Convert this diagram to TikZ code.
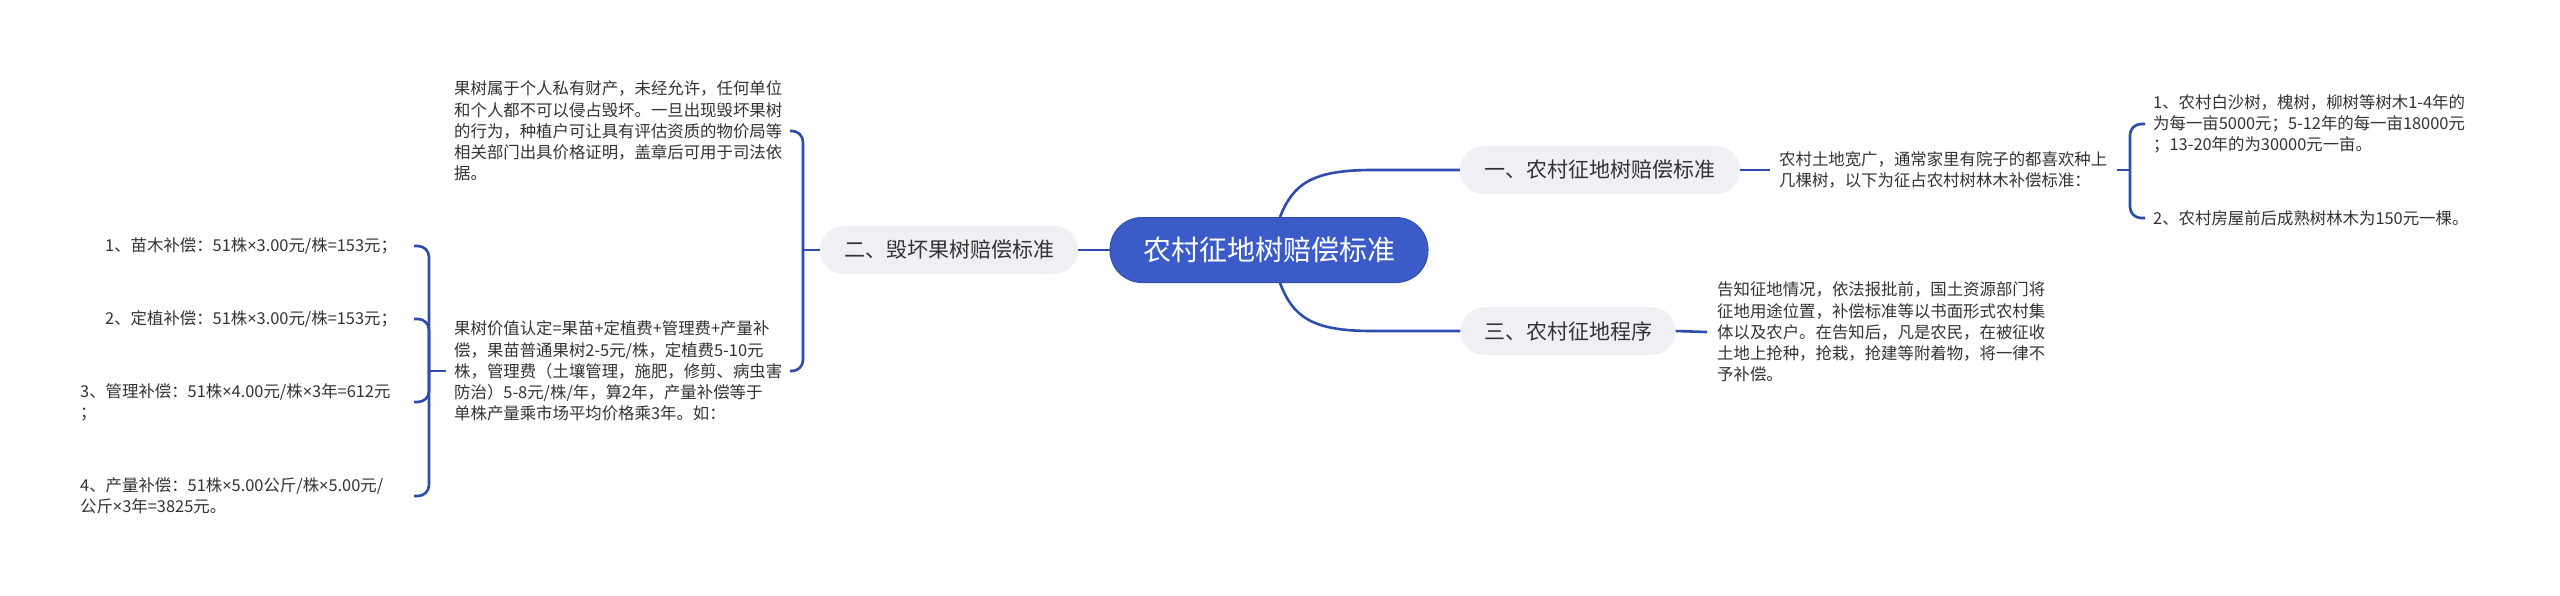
\documentclass[tikz,border=0pt]{standalone}
\usepackage{fontspec}
\setmainfont{Noto Sans CJK SC}
\newfontfamily\latinfont{Noto Sans}
\newcommand{\mytimes}{{\latinfont ×}}
\definecolor{lineblue}{RGB}{45,76,172}
\definecolor{rootblue}{RGB}{59,92,200}
\definecolor{subgray}{RGB}{238,240,244}
\definecolor{txt}{RGB}{51,51,51}
\begin{document}
\begin{tikzpicture}[x=1pt,y=-1pt,
  root/.style={fill=rootblue, draw=rootblue!85!black, line width=1pt, rounded corners=32pt, minimum width=318pt, minimum height=65pt, text=white, font=\fontsize{28}{34}\selectfont, inner sep=0pt},
  sub/.style={fill=subgray, rounded corners=24pt, minimum height=48pt, text=txt, font=\fontsize{21}{26}\selectfont, inner sep=0pt},
  leaf/.style={text=txt, font=\fontsize{16.4}{21.2}\selectfont, align=left, inner sep=0pt, anchor=west},
  conn/.style={draw=lineblue, line width=2.6pt},
  brk/.style={conn, rounded corners=11pt}
]
\useasboundingbox[fill=white] (0,0) rectangle (2560,595);

% main nodes
\node[root] (root) at (1269,250) {农村征地树赔偿标准};
\node[sub, minimum width=280pt] (n1) at (1600,170) {一、农村征地树赔偿标准};
\node[sub, minimum width=258pt] (n2) at (949,250) {二、毁坏果树赔偿标准};
\node[sub, minimum width=215pt] (n3) at (1568,331) {三、农村征地程序};

% leaf texts
\node[leaf] (t1) at (1779,170) {农村土地宽广，通常家里有院子的都喜欢种上\\几棵树，以下为征占农村树林木补偿标准：};
\node[leaf] (r1) at (2153,124) {1、农村白沙树，槐树，柳树等树木1-4年的\\为每一亩5000元；5-12年的每一亩18000元\\；13-20年的为30000元一亩。};
\node[leaf] (r2) at (2153,218) {2、农村房屋前后成熟树林木为150元一棵。};
\node[leaf] (t3) at (1717,332) {告知征地情况，依法报批前，国土资源部门将\\征地用途位置，补偿标准等以书面形式农村集\\体以及农户。在告知后，凡是农民，在被征收\\土地上抢种，抢栽，抢建等附着物，将一律不\\予补偿。};
\node[leaf] (tA) at (454,131) {果树属于个人私有财产，未经允许，任何单位\\和个人都不可以侵占毁坏。一旦出现毁坏果树\\的行为，种植户可让具有评估资质的物价局等\\相关部门出具价格证明，盖章后可用于司法依\\据。};
\node[leaf] (tB) at (454,371) {果树价值认定=果苗+定植费+管理费+产量补\\偿，果苗普通果树2-5元/株，定植费5-10元\\株，管理费（土壤管理，施肥，修剪、病虫害\\防治）5-8元/株/年，算2年，产量补偿等于\\单株产量乘市场平均价格乘3年。如：};
\node[leaf] (L1) at (105,246) {1、苗木补偿：51株\mytimes3.00元/株=153元；};
\node[leaf] (L2) at (105,319) {2、定植补偿：51株\mytimes3.00元/株=153元；};
\node[leaf] (L3) at (80,402) {3、管理补偿：51株\mytimes4.00元/株\mytimes3年=612元\\；};
\node[leaf] (L4) at (80,496) {4、产量补偿：51株\mytimes5.00公斤/株\mytimes5.00元/\\公斤\mytimes3年=3825元。};

% bracket coordinates
\coordinate (b1) at (2130,170);
\coordinate (b2) at (803,250);
\coordinate (b3) at (429,371);
\coordinate (c1) at (1372,170);
\coordinate (c3) at (1372,331);

% connectors from root
\draw[conn] (root.west) -- (n2.east);
\draw[conn] ([xshift=11pt]root.north) .. controls (1293,184) and (1312,170) .. (c1) -- (n1.west);
\draw[conn] ([xshift=11pt]root.south) .. controls (1293,317) and (1312,331) .. (c3) -- (n3.west);

% branch 1
\draw[conn] (n1.east) -- ([xshift=-9pt]t1.west);
\draw[conn] ([xshift=10pt]t1.east) -- (b1);
\draw[brk] (b1) -- (b1 |- r1.west) -- ++(15,0);
\draw[brk] (b1) -- (b1 |- r2.west) -- ++(15,0);

% branch 3
\draw[conn] (n3.east) -- ([xshift=-10pt]t3.west);

% branch 2
\draw[conn] (n2.west) -- (b2);
\draw[brk] (b2) -- (b2 |- tA.west) -- ++(-13,0);
\draw[brk] (b2) -- (b2 |- tB.west) -- ++(-13,0);
\draw[conn] ([xshift=-8pt]tB.west) -- (b3);
\draw[brk] (b3) -- (b3 |- L1.west) -- ++(-15,0);
\draw[brk] (b3) -- (b3 |- L2.west) -- ++(-15,0);
\draw[brk] (b3) -- (b3 |- L3.west) -- ++(-15,0);
\draw[brk] (b3) -- (b3 |- L4.west) -- ++(-15,0);
\end{tikzpicture}
\end{document}
